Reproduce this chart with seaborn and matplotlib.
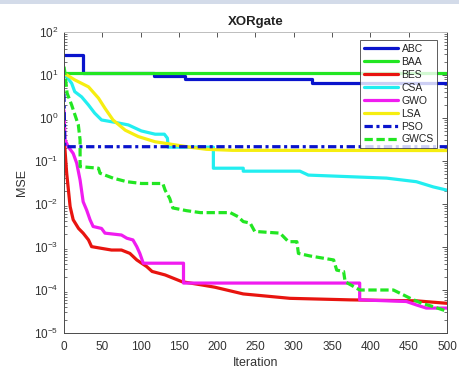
import matplotlib
matplotlib.use("Agg")
import matplotlib.pyplot as plt
from matplotlib.patches import Rectangle
import matplotlib.ticker as mticker
import numpy as np
import pandas as pd
import seaborn as sns

# Convergence curves (iteration, MSE) for each optimiser on the XOR gate task
abc_it = [0, 25, 117, 158, 324, 500]
abc_mse = [29, 11, 9.5, 8.2, 6.5, 6.5]

baa_it = [0, 500]
baa_mse = [11.3, 11.3]

bes_it = [0, 1, 3.5, 8, 12, 19, 25, 32, 36, 49, 62, 75, 86, 95, 108, 115, 132,
          154, 180, 197, 234, 295, 373, 460, 500]
bes_mse = [0.25, 0.215, 0.052, 0.0087, 0.0043, 0.0027, 0.0021, 0.00146, 0.00102,
           0.00093, 0.00085, 0.00085, 0.00071, 0.0005, 0.00035, 0.00027, 0.000224,
           0.000156, 0.000131, 0.000116, 8.1e-5, 6.4e-5, 5.9e-5, 5.6e-5, 4.9e-5]

csa_it = [0, 10, 14, 23, 32, 40, 49, 67, 84, 101, 119, 131, 135, 136, 195, 195,
          234, 234, 308, 319, 421, 460, 482, 500]
csa_mse = [11, 6.4, 4.1, 3.1, 2.0, 1.3, 0.90, 0.79, 0.69, 0.50, 0.42, 0.42, 0.34,
           0.21, 0.21, 0.068, 0.068, 0.058, 0.058, 0.047, 0.040, 0.033, 0.025, 0.021]

gwo_it = [0, 1.3, 5.6, 12, 16.6, 21, 25, 29.6, 34, 38, 49, 53.5, 75, 82, 90, 95,
          99, 103.5, 156, 156, 386, 386, 447, 460, 473, 500]
gwo_mse = [1.5, 0.31, 0.215, 0.15, 0.089, 0.036, 0.0113, 0.0072, 0.0043, 0.0030,
           0.0027, 0.0021, 0.0019, 0.0016, 0.00146, 0.00102, 0.00071, 0.00042,
           0.00042, 0.000145, 0.000145, 5.9e-5, 5.4e-5, 4.5e-5, 3.8e-5, 3.8e-5]

lsa_it = [0, 14, 32, 45, 53.5, 64, 80, 97, 119, 125, 150, 164, 186, 220, 500]
lsa_mse = [11, 7.7, 5.3, 2.9, 1.68, 0.90, 0.52, 0.37, 0.28, 0.27, 0.23, 0.21,
           0.187, 0.177, 0.175]

pso_it = [0, 1, 500]
pso_mse = [3.7, 0.215, 0.215]

gwcs_it = [0, 1, 4, 10, 18.7, 21, 21, 45, 47, 64, 82, 101, 129, 132, 138, 142,
           160, 178, 217, 227, 234, 243, 249, 282, 293, 304, 306, 321, 352, 356,
           365, 367, 382, 386, 430, 443, 452, 467, 482, 500]
gwcs_mse = [15.6, 12, 3.8, 2.0, 0.69, 0.31, 0.074, 0.068, 0.052, 0.040, 0.033,
            0.030, 0.030, 0.021, 0.0135, 0.0081, 0.0070, 0.0063, 0.0063, 0.0051,
            0.0039, 0.0036, 0.0023, 0.0021, 0.00133, 0.00133, 0.00071, 0.00062,
            0.0005, 0.00029, 0.00027, 0.000156, 0.00011, 1e-4, 1e-4, 7.7e-5,
            6.4e-5, 4.9e-5, 4.1e-5, 3.2e-5]

x_ticks = [0, 50, 100, 150, 200, 250, 300, 350, 400, 450, 500]

series = [
    ("ABC", abc_it, abc_mse, "#0a14cc", "-", "steps-post"),
    ("BAA", baa_it, baa_mse, "#22e622", "-", "default"),
    ("BES", bes_it, bes_mse, "#e8140f", "-", "default"),
    ("CSA", csa_it, csa_mse, "#22eef0", "-", "default"),
    ("GWO", gwo_it, gwo_mse, "#f01cf0", "-", "default"),
    ("LSA", lsa_it, lsa_mse, "#f6ee10", "-", "default"),
    ("PSO", pso_it, pso_mse, "#0a14cc", (0, (6, 2.6, 2.2, 2.6)), "default"),
    ("GWCS", gwcs_it, gwcs_mse, "#22e622", (0, (6, 2.6)), "default"),
]

sns.set_theme(style="white")
plt.rcParams["font.family"] = ["Liberation Sans", "DejaVu Sans"]
plt.rcParams["lines.scale_dashes"] = False
plt.rcParams["axes.edgecolor"] = "#3a3a3a"
plt.rcParams["xtick.color"] = "#3a3a3a"
plt.rcParams["ytick.color"] = "#3a3a3a"

fig = plt.figure(figsize=(4.6, 3.72), dpi=100)
fig.patch.set_facecolor("white")
ax = fig.add_axes([64 / 460, 39 / 372, 383 / 460, 301 / 372])

for name, it, mse, col, ls, ds in series:
    df = pd.DataFrame({"Iteration": it, "MSE": mse})
    sns.lineplot(data=df, x="Iteration", y="MSE", ax=ax, color=col, linestyle=ls,
                 linewidth=2.3, drawstyle=ds, estimator=None, sort=False,
                 label=name)

ax.set_yscale("log")
ax.set_xlim(0, 500)
ax.set_ylim(1e-5, 1e2)
ax.set_xticks(x_ticks)
ax.yaxis.set_major_locator(mticker.LogLocator(base=10, numticks=10))
ax.yaxis.set_minor_locator(mticker.LogLocator(base=10, subs=np.arange(2, 10), numticks=10))
ax.yaxis.set_minor_formatter(mticker.NullFormatter())

ax.tick_params(axis="both", which="major", direction="in", length=3.5, width=0.6,
               top=True, right=True, labelsize=8.5, labelcolor="#333333", pad=4)
ax.tick_params(axis="x", which="major", pad=6)
ax.tick_params(axis="y", which="minor", direction="in", length=2, width=0.5,
               left=True, right=True)
for sp in ax.spines.values():
    sp.set_linewidth(0.7)
    sp.set_color("#4a4a4a")
ax.spines["top"].set_color("#bdbdbd")

ax.set_xlabel("Iteration", fontsize=9, color="#333333", labelpad=3)
ax.set_ylabel("MSE", fontsize=9, color="#333333", labelpad=4)
ax.set_title("XORgate", fontsize=9.5, fontweight="bold", color="#222222", pad=5)

leg = ax.legend(loc="upper right", bbox_to_anchor=(0.975, 0.972), fontsize=7.5,
                frameon=True, fancybox=False, edgecolor="#333333",
                handlelength=3.3, handletextpad=0.3, labelspacing=0.28,
                borderpad=0.35, borderaxespad=0.0)
leg.get_frame().set_linewidth(0.7)
for txt in leg.get_texts():
    txt.set_color("#222222")

# faint bluish strip along the upper edge of the image
fig.patches.append(Rectangle((0, 1 - 4 / 372), 1, 4 / 372, transform=fig.transFigure,
                             facecolor="#c9d3e4", edgecolor="none", alpha=0.8,
                             zorder=0))

fig.savefig("out.png", dpi=100)
